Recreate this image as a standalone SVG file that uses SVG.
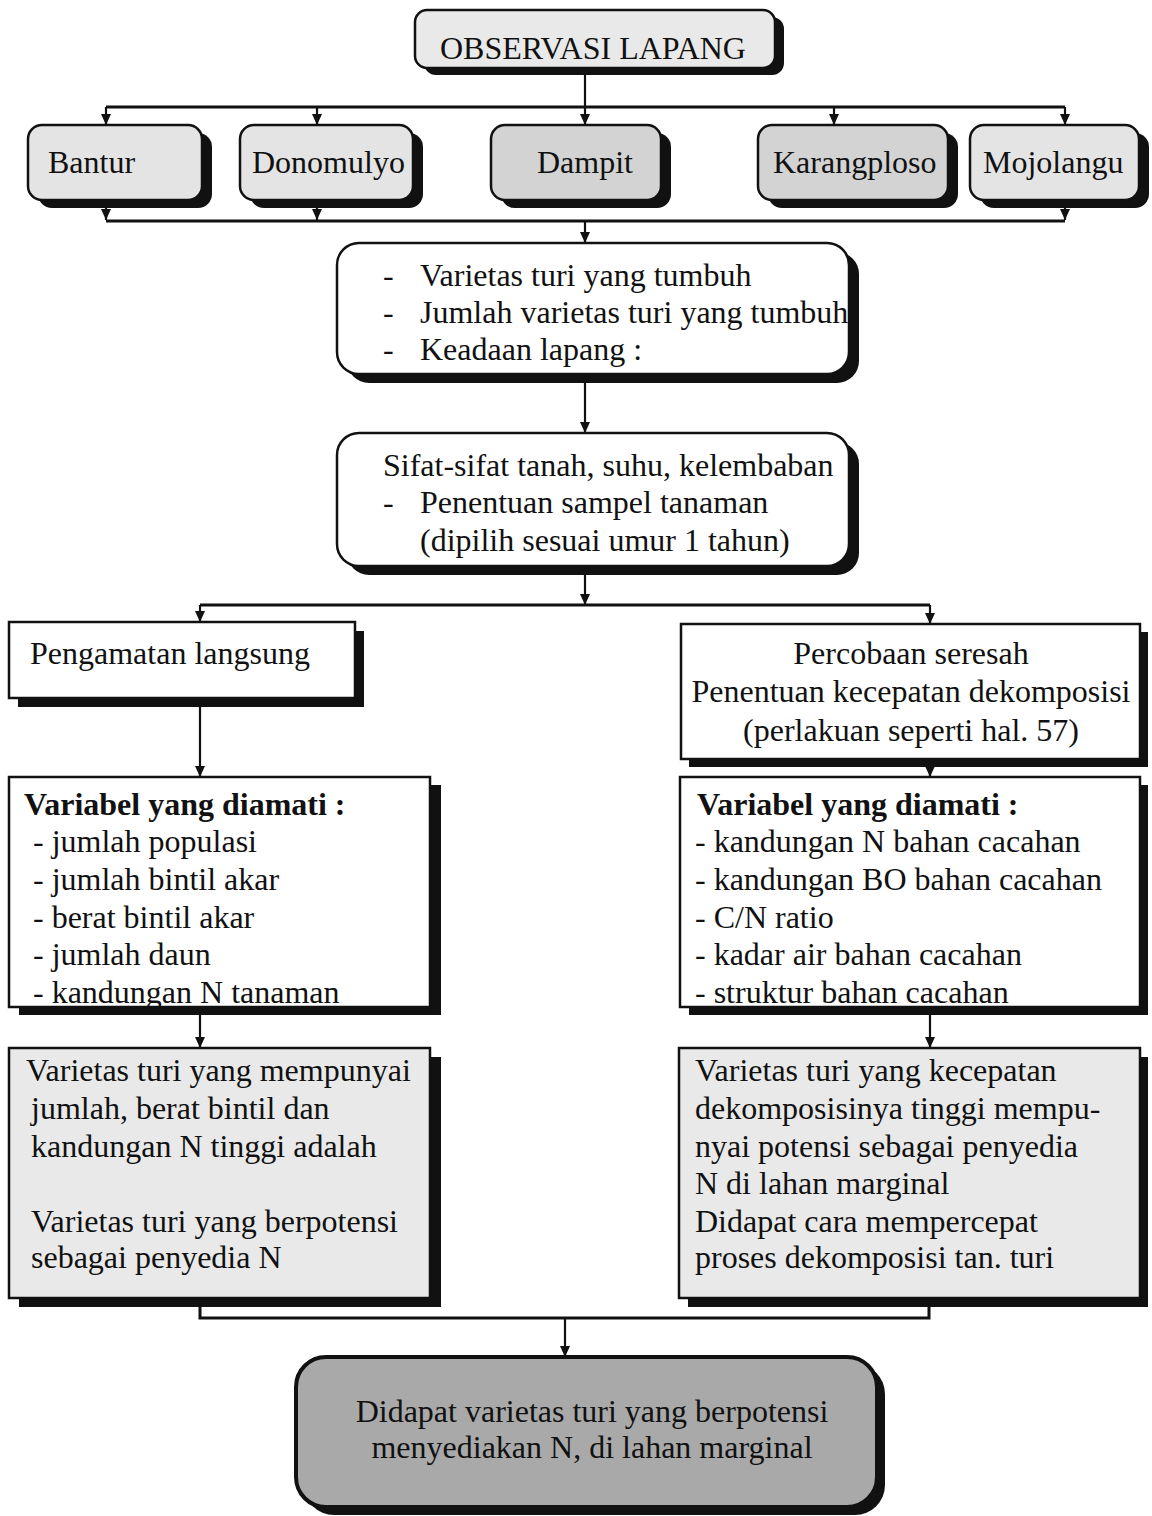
<svg xmlns="http://www.w3.org/2000/svg" width="1152" height="1516" viewBox="0 0 1152 1516">
<defs>
<marker id="arr" viewBox="0 -5 11 10" refX="11" refY="0" markerWidth="11" markerHeight="10" markerUnits="userSpaceOnUse" orient="auto">
<path d="M0,-5 L11,0 L0,5 z" fill="#111"/>
</marker>
</defs>
<style>
text{font-family:"Liberation Serif","Times New Roman",serif;font-size:32px;fill:#111}
.b{font-weight:bold}
.sh{fill:#111}
.box{stroke:#111;stroke-width:2.5}
.w{fill:#fff}
.g1{fill:#e4e4e4}
.g2{fill:#d3d3d3}
.g3{fill:#e9e9e9}
.gf{fill:#a9a9a9;stroke:#111;stroke-width:4}
.c{fill:none;stroke:#111;stroke-width:2.2}
.ct{fill:none;stroke:#111;stroke-width:3}
</style>
<rect width="1152" height="1516" fill="#fff"/>

<g id="connectors">
<path class="c" d="M585,68 V125" marker-end="url(#arr)"/>
<path class="ct" d="M106,107 H1065"/>
<path class="c" d="M106,107 V125" marker-end="url(#arr)"/>
<path class="c" d="M317,107 V125" marker-end="url(#arr)"/>
<path class="c" d="M834,107 V125" marker-end="url(#arr)"/>
<path class="c" d="M1065,107 V125" marker-end="url(#arr)"/>
<path class="c" d="M106,200 V220" marker-end="url(#arr)"/>
<path class="c" d="M317,200 V220" marker-end="url(#arr)"/>
<path class="c" d="M1065,200 V220" marker-end="url(#arr)"/>
<path class="ct" d="M106,221 H1065"/>
<path class="c" d="M585,221 V243" marker-end="url(#arr)"/>
<path class="c" d="M585,374 V433" marker-end="url(#arr)"/>
<path class="c" d="M585,566 V605" marker-end="url(#arr)"/>
<path class="ct" d="M200,605 H930"/>
<path class="c" d="M200,605 V622" marker-end="url(#arr)"/>
<path class="c" d="M930,605 V624" marker-end="url(#arr)"/>
<path class="c" d="M200,698 V777" marker-end="url(#arr)"/>
<path class="c" d="M930,759 V777" marker-end="url(#arr)"/>
<path class="c" d="M200,1007 V1048" marker-end="url(#arr)"/>
<path class="c" d="M930,1007 V1048" marker-end="url(#arr)"/>
<path class="ct" d="M200,1298 V1318 H929 V1298"/>
<path class="c" d="M565,1318 V1357" marker-end="url(#arr)"/>
</g>

<g id="observasi">
<rect class="sh" x="424" y="17" width="360" height="58" rx="12"/>
<rect class="box g3" x="415" y="10" width="360" height="58" rx="12"/>
<text x="440" y="59" font-size="31">OBSERVASI LAPANG</text>
</g>

<g id="bantur">
<rect class="sh" x="38" y="133" width="174" height="75" rx="14"/>
<rect class="box g1" x="28" y="125" width="174" height="75" rx="14"/>
<text x="48" y="173">Bantur</text>
</g>
<g id="donomulyo">
<rect class="sh" x="250" y="133" width="173" height="75" rx="14"/>
<rect class="box g1" x="240" y="125" width="173" height="75" rx="14"/>
<text x="252" y="173">Donomulyo</text>
</g>
<g id="dampit">
<rect class="sh" x="501" y="133" width="170" height="75" rx="14"/>
<rect class="box g2" x="491" y="125" width="170" height="75" rx="14"/>
<text x="537" y="173">Dampit</text>
</g>
<g id="karangploso">
<rect class="sh" x="768" y="133" width="190" height="75" rx="14"/>
<rect class="box g2" x="758" y="125" width="190" height="75" rx="14"/>
<text x="773" y="173">Karangploso</text>
</g>
<g id="mojolangu">
<rect class="sh" x="980" y="133" width="169" height="75" rx="14"/>
<rect class="box g1" x="970" y="125" width="169" height="75" rx="14"/>
<text x="983" y="173">Mojolangu</text>
</g>

<g id="varietas">
<rect class="sh" x="347" y="252" width="512" height="131" rx="22"/>
<rect class="box w" x="337" y="243" width="512" height="131" rx="22"/>
<text x="383" y="286">-</text><text x="420" y="286">Varietas turi yang tumbuh</text>
<text x="383" y="323">-</text><text x="420" y="323">Jumlah varietas turi yang tumbuh</text>
<text x="383" y="360">-</text><text x="420" y="360">Keadaan lapang :</text>
</g>

<g id="sifat">
<rect class="sh" x="347" y="442" width="512" height="133" rx="22"/>
<rect class="box w" x="337" y="433" width="512" height="133" rx="22"/>
<text x="383" y="476">Sifat-sifat tanah, suhu, kelembaban</text>
<text x="383" y="513">-</text><text x="420" y="513">Penentuan sampel tanaman</text>
<text x="420" y="551">(dipilih sesuai umur 1 tahun)</text>
</g>

<g id="pengamatan">
<rect class="sh" x="18" y="631" width="346" height="76"/>
<rect class="box w" x="9" y="622" width="346" height="76"/>
<text x="30" y="664">Pengamatan langsung</text>
</g>

<g id="percobaan">
<rect class="sh" x="689" y="632" width="459" height="135"/>
<rect class="box w" x="681" y="624" width="459" height="135"/>
<text x="911" y="664" text-anchor="middle">Percobaan seresah</text>
<text x="911" y="702" text-anchor="middle">Penentuan kecepatan dekomposisi</text>
<text x="911" y="741" text-anchor="middle">(perlakuan seperti hal. 57)</text>
</g>

<g id="variabel-kiri">
<rect class="sh" x="19" y="785" width="422" height="230"/>
<rect class="w" x="9" y="777" width="421" height="230"/>
<text class="b" x="24" y="815">Variabel yang diamati :</text>
<text x="33" y="852">- jumlah populasi</text>
<text x="33" y="890">- jumlah bintil akar</text>
<text x="33" y="928">- berat bintil akar</text>
<text x="33" y="965">- jumlah daun</text>
<text x="33" y="1003">- kandungan N tanaman</text>
<rect class="box" fill="none" x="9" y="777" width="421" height="230"/>
</g>

<g id="variabel-kanan">
<rect class="sh" x="689" y="785" width="459" height="230"/>
<rect class="w" x="680" y="777" width="460" height="230"/>
<text class="b" x="697" y="815">Variabel yang diamati :</text>
<text x="695" y="852">- kandungan N bahan cacahan</text>
<text x="695" y="890">- kandungan BO bahan cacahan</text>
<text x="695" y="928">- C/N ratio</text>
<text x="695" y="965">- kadar air bahan cacahan</text>
<text x="695" y="1003">- struktur bahan cacahan</text>
<rect class="box" fill="none" x="680" y="777" width="460" height="230"/>
</g>

<g id="hasil-kiri">
<rect class="sh" x="19" y="1057" width="422" height="250"/>
<rect class="box g3" x="9" y="1048" width="421" height="250"/>
<text x="26" y="1081">Varietas turi yang mempunyai</text>
<text x="31" y="1119">jumlah, berat bintil dan</text>
<text x="31" y="1157">kandungan N tinggi adalah</text>
<text x="31" y="1232">Varietas turi yang berpotensi</text>
<text x="31" y="1268">sebagai penyedia N</text>
</g>

<g id="hasil-kanan">
<rect class="sh" x="688" y="1057" width="460" height="250"/>
<rect class="box g3" x="679" y="1048" width="461" height="250"/>
<text x="695" y="1081">Varietas turi yang kecepatan</text>
<text x="695" y="1119">dekomposisinya tinggi mempu-</text>
<text x="695" y="1157">nyai potensi sebagai penyedia</text>
<text x="695" y="1194">N di lahan marginal</text>
<text x="695" y="1232">Didapat cara mempercepat</text>
<text x="695" y="1268">proses dekomposisi tan. turi</text>
</g>

<g id="kesimpulan">
<rect class="sh" x="304" y="1364" width="581" height="151" rx="30"/>
<rect class="gf" x="296" y="1357" width="581" height="150" rx="30"/>
<text x="592" y="1422" text-anchor="middle">Didapat varietas turi yang berpotensi</text>
<text x="592" y="1458" text-anchor="middle">menyediakan N, di lahan marginal</text>
</g>
</svg>
